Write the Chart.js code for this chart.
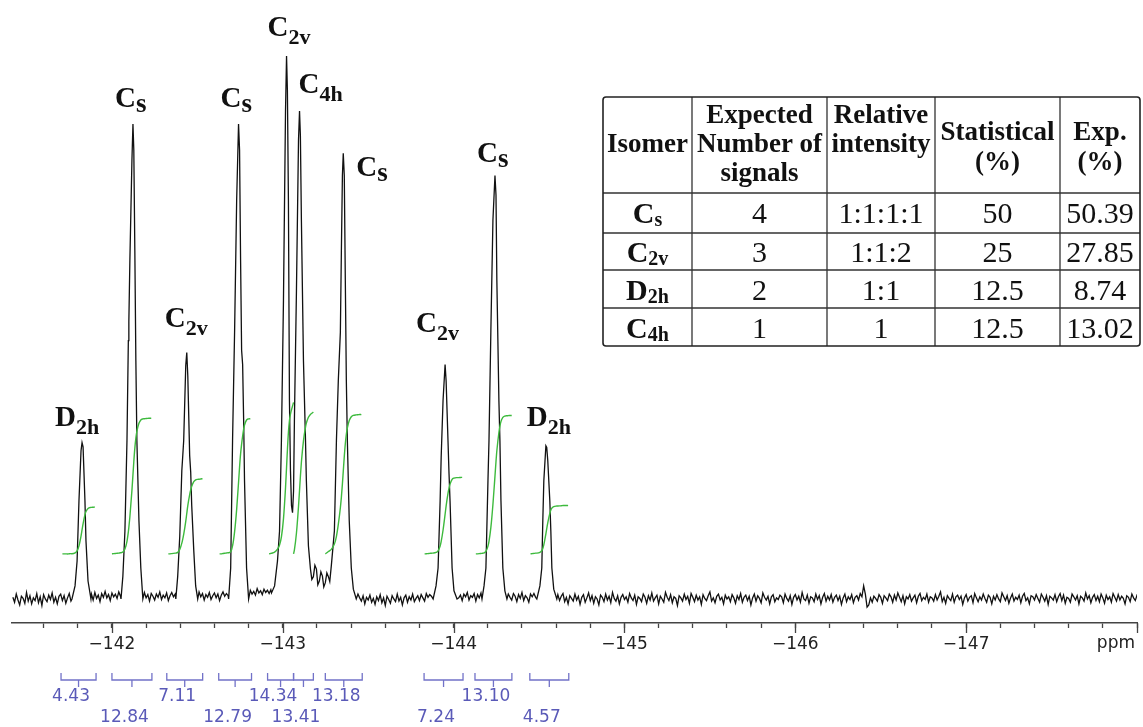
<!DOCTYPE html>
<html>
<head>
<meta charset="utf-8">
<script src="https://cdn.jsdelivr.net/npm/chart.js@4.4.1/dist/chart.umd.min.js"></script>
<style>
  html, body { margin: 0; padding: 0; background: #fff; }
</style>
</head>
<body>
<canvas id="nmr-chart" width="1143" height="727"></canvas>
<script>
// Peaks (ppm, height with the tallest line = 100)
const peak_ppm = [-141.825, -142.123, -142.438, -142.741, -143.022, -143.098, -143.354, -143.950, -144.242, -144.545];
const peak_height = [28.8, 87.5, 45.4, 87.5, 100, 89.9, 82.1, 43.2, 78.0, 28.2];
const peak_symbol = ['D', 'C', 'C', 'C', 'C', 'C', 'C', 'C', 'C', 'D'];
const peak_sub = ['2h', 's', '2v', 's', '2v', '4h', 's', '2v', 's', '2h'];

// Trace around each signal: [ppm, intensity]
const peak_traces = [
  [[-141.766,0],[-141.784,2.4],[-141.796,7.0],[-141.807,18.1],[-141.819,27.3],[-141.825,28.8],[-141.831,28.0],[-141.842,18.1],[-141.848,10.7],[-141.860,3.3],[-141.877,0]],
  [[-142.053,0],[-142.064,4.2],[-142.076,12.5],[-142.088,29.2],[-142.096,47.6],[-142.099,51.1],[-142.105,62.4],[-142.117,80.8],[-142.123,87.5],[-142.128,82.7],[-142.134,64.2],[-142.140,43.9],[-142.146,29.2],[-142.158,14.4],[-142.169,5.7],[-142.181,0]],
  [[-142.374,0],[-142.385,4.2],[-142.397,11.6],[-142.409,23.6],[-142.415,26.6],[-142.420,29.2],[-142.432,43.0],[-142.438,45.4],[-142.444,41.1],[-142.455,26.4],[-142.461,23.4],[-142.467,17.2],[-142.479,8.9],[-142.490,2.4],[-142.502,0]],
  [[-142.683,0],[-142.695,5.7],[-142.706,29.2],[-142.718,49.4],[-142.730,73.4],[-142.741,87.5],[-142.747,82.7],[-142.753,62.4],[-142.759,45.8],[-142.765,43.2],[-142.771,32.8],[-142.776,21.8],[-142.788,5.7],[-142.800,0]],
  [[-142.934,1.1],[-142.952,2.4],[-142.969,7.0],[-142.981,12.5],[-142.992,29.2],[-143.004,55.0],[-143.016,90.0],[-143.022,100],[-143.027,93.7],[-143.033,73.4],[-143.039,36.5],[-143.045,23.6],[-143.051,17.2],[-143.057,15.9],[-143.063,19.9],[-143.068,32.8],[-143.080,56.8],[-143.092,84.5],[-143.098,89.9],[-143.103,85.4],[-143.109,69.7],[-143.121,43.9],[-143.133,29.2],[-143.138,21.8],[-143.150,9.8],[-143.162,5.5],[-143.170,3.6],[-143.179,4.1],[-143.188,6.2],[-143.197,5.5],[-143.205,2.6],[-143.214,3.3],[-143.223,5.0],[-143.232,4.2],[-143.240,2.2],[-143.249,3.0],[-143.258,4.8],[-143.267,4.1],[-143.275,3.2],[-143.284,6.1],[-143.302,12.5],[-143.314,29.2],[-143.325,40.2],[-143.337,49.1],[-143.343,64.2],[-143.349,78.0],[-143.354,82.1],[-143.360,78.0],[-143.366,58.7],[-143.372,40.2],[-143.378,29.2],[-143.389,14.4],[-143.401,5.7],[-143.413,1.8],[-143.430,0]],
  [[-143.880,0],[-143.897,2.4],[-143.909,5.7],[-143.921,18.1],[-143.927,26.0],[-143.938,36.5],[-143.950,43.2],[-143.956,40.2],[-143.967,29.2],[-143.973,23.1],[-143.979,18.1],[-143.991,5.7],[-144.002,1.5],[-144.020,0]],
  [[-144.166,0],[-144.178,2.4],[-144.189,5.7],[-144.201,21.8],[-144.207,29.2],[-144.218,49.4],[-144.230,69.7],[-144.242,78.0],[-144.248,74.4],[-144.253,58.7],[-144.265,36.5],[-144.271,29.2],[-144.277,18.1],[-144.288,5.7],[-144.300,1.5],[-144.312,0]],
  [[-144.487,0],[-144.505,2.4],[-144.516,5.7],[-144.522,14.4],[-144.528,21.8],[-144.540,28.2],[-144.545,27.9],[-144.551,25.5],[-144.563,18.1],[-144.569,12.5],[-144.575,5.7],[-144.586,1.8],[-144.604,0]],
];

// Baseline noise, one value every 0.01 ppm from -141.42 ppm (zeros sit under the peaks and are not used)
const baseline_start = -141.42;
const baseline_step = 0.01;
const baseline_noise = [
  0.3,-0.6,0.9,-0.2,-1.1,0.5,0.1,-0.8,1.2,-0.4,0.6,-0.9,0.2,-0.3,1.0,-0.7,0.4,-1.2,0.8,0.0,-0.5,0.7,-0.1,1.1,-0.6,0.3,-0.9,0.5,0.9,-0.3,
  0.6,-0.8,0.2,1.0,-0.4,0,0,0,0,0,0,0,0,0,0,0,0.9,-0.2,1.2,0.1,0.7,-0.5,1.0,0.3,1.4,0.2,0.8,-0.3,1.1,0.4,
  0.9,0.1,1.3,0.5,0,0,0,0,0,0,0,0,0,0,0,0,0,1.2,0.2,0.8,-0.4,1.0,0.5,-0.2,0.9,0.3,1.3,-0.1,0.7,0.2,
  1.1,-0.3,0.6,1.2,0.4,0.9,0,0,0,0,0,0,0,0,0,0,0,0,0,1.3,0.4,1.0,-0.2,0.8,0.3,1.2,-0.1,0.6,1.1,0.2,
  0.9,-0.3,0.7,1.3,0.5,1.0,0.6,0,0,0,0,0,0,0,0,0,0,0,0,1.6,0.9,1.4,0.7,1.9,1.1,1.5,0.8,1.8,1.2,1.6,
  1.0,1.7,0,0,0,0,0,0,0,0,0,0,0,0,0,0,0,0,0,0,0,0,0,0,0,0,0,0,0,0,
  0,0,0,0,0,0,0,0,0,0,0,0,0,0,0,0,0,0,0,0,0,0,0.9,0.2,-0.4,0.6,-0.9,0.3,-0.2,0.7,
  -0.6,0.1,-1.0,0.4,-0.3,0.8,-0.7,0.2,-1.2,0.5,-0.1,-0.8,0.6,0.0,-0.5,0.9,-0.4,0.3,-1.1,0.2,0.7,-0.6,0.4,-0.2,0.9,-0.5,0.1,0.6,-0.3,0.8,
  0.2,-0.4,1.0,0.3,0.8,0.5,0,0,0,0,0,0,0,0,0,0,0,0,0,0,0,0.2,0.7,-0.3,0.9,0.4,1.2,-0.2,0.6,0.3,
  1.0,-0.4,0.8,0.2,1.1,0,0,0,0,0,0,0,0,0,0,0,0,0,0,0,0.9,0.3,-0.2,1.0,0.5,-0.5,0.8,0.1,1.2,-0.3,
  0.6,0.2,-0.6,0.9,0.4,1.0,0.3,0,0,0,0,0,0,0,0,0,0,0,0,0.8,-0.3,0.5,1.0,-0.5,0.3,-0.9,0.6,0.1,-0.4,0.9,
  -0.2,0.5,-1.0,0.3,0.8,-0.6,0.2,1.1,-0.3,0.6,-0.8,0.4,0.0,-1.1,0.7,0.3,-0.5,0.9,-0.2,0.5,-0.7,1.2,0.1,-0.4,0.6,-0.9,0.3,0.8,-0.1,0.4,
  -0.6,1.0,0.2,-0.3,0.7,-1.0,0.4,0.1,-0.5,0.9,0.3,-0.8,0.6,-0.2,1.1,-0.4,0.2,0.7,-0.9,0.5,0.0,-0.6,1.2,0.3,-0.3,0.8,-0.7,0.4,0.1,-1.2,
  0.6,0.2,-0.4,0.9,-0.1,0.5,-0.8,1.0,0.3,-0.5,0.7,-0.2,0.4,-1.0,0.8,0.1,-0.3,0.6,1.3,-0.4,0.2,-0.7,0.5,0.9,-0.2,0.3,-0.9,0.7,0.0,0.4,
  -0.5,0.8,0.2,-0.8,0.6,-0.1,1.0,-0.6,0.3,0.7,-0.3,0.5,-1.1,0.2,0.9,-0.4,0.6,0.1,-0.7,1.1,0.3,-0.2,0.5,-0.9,0.4,0.8,-0.5,0.2,-0.1,0.7,
  0.4,-0.7,0.9,0.1,-0.4,0.6,-1.0,0.3,0.8,-0.2,0.5,-0.6,1.2,0.0,-0.3,0.7,-0.8,0.4,0.2,-0.5,0.9,-0.1,0.6,-0.9,0.3,1.0,-0.4,0.5,-0.2,0.8,
  -0.6,0.3,0.7,-0.3,0.5,-1.0,0.2,0.9,-0.5,0.4,-0.1,0.8,-0.7,0.3,0.6,-0.2,1.0,0.4,2.4,0.9,-1.5,-1.1,0.2,-0.6,0.5,0.1,-0.4,0.8,0.3,-0.8,
  0.6,0.2,-0.3,0.9,0.4,-0.6,0.7,-0.2,1.1,0.3,-0.5,0.6,-0.9,0.4,0.0,0.8,-0.4,0.2,0.7,-0.7,0.5,1.0,-0.3,0.3,-0.1,0.9,-0.6,0.4,0.2,-0.4,
  0.8,-0.2,0.5,1.3,-0.5,0.3,-0.8,0.6,0.1,-0.3,0.9,-0.6,0.4,0.7,-0.1,0.5,-1.0,0.2,0.8,-0.4,0.3,0.6,-0.7,1.0,0.2,-0.5,0.4,-0.2,0.9,0.1,
  -0.6,0.7,0.3,-0.9,0.5,-0.2,0.8,0.0,-0.5,1.1,0.4,-0.3,0.6,-0.8,0.2,0.9,-0.4,0.3,-0.1,0.7,-0.7,0.5,1.0,-0.3,0.2,-0.9,0.6,0.4,-0.2,0.8,
  0.1,-0.6,0.9,0.3,-0.4,0.6,-1.0,0.5,0.2,-0.2,0.8,-0.5,0.4,1.0,-0.3,0.7,-0.8,0.3,0.1,-0.6,0.9,0.4,-0.2,0.6,-0.9,0.5,0.2,-0.4,1.1,0.0,
  0.6,-0.7,0.3,0.8,-0.3,0.5,-0.5,0.9,0.2,-0.8,0.7,-0.1,0.4,-0.6,1.0,0.3,-0.4,0.8,-0.2,0.5,0.1,-0.9,0.6,0.3,-0.5,0.9,0.2,-0.3,0.7,0.4,
];

// Integration regions (ppm) and their values
const integral_from = [-141.702, -142.000, -142.321, -142.625, -142.911, -143.063, -143.249, -143.827, -144.125, -144.446];
const integral_to   = [-141.907, -142.234, -142.531, -142.817, -143.063, -143.179, -143.465, -144.055, -144.341, -144.674];
const integral_value = [4.43, 12.84, 7.11, 12.79, 14.34, 13.41, 13.18, 7.24, 13.10, 4.57];

// Table
const table_symbol = ['C', 'C', 'D', 'C'];
const table_sub = ['s', '2v', '2h', '4h'];
const table_signals = ['4', '3', '2', '1'];
const table_ratio = ['1:1:1:1', '1:1:2', '1:1', '1'];
const table_statistical = ['50', '25', '12.5', '12.5'];
const table_exp = ['50.39', '27.85', '8.74', '13.02'];

// build the trace: baseline outside the peak windows + peak points
const windows = peak_traces.map(seg => [seg[0][0], seg[seg.length - 1][0]]);
let spectrum = [];
baseline_noise.forEach((v, i) => {
  const x = Math.round((baseline_start - i * baseline_step) * 1000) / 1000;
  if (!windows.some(w => x <= w[0] && x >= w[1])) spectrum.push({ x: x, y: v });
});
peak_traces.forEach(seg => seg.forEach(p => spectrum.push({ x: p[0], y: p[1] })));
spectrum.sort((a, b) => b.x - a.x);

// integral curves: running sum of the trace inside each region
const integral_base = 8.3;
const integral_scale = 1.947;
function integral_points(from, to, value) {
  const pts = spectrum.filter(p => p.x <= from && p.x >= to);
  let sum = 0;
  const cum = [0];
  for (let i = 1; i < pts.length; i++) {
    sum += (pts[i - 1].x - pts[i].x) * (pts[i - 1].y + pts[i].y) / 2;
    cum.push(sum);
  }
  return pts.map((p, i) => ({ x: p.x, y: integral_base + value * integral_scale * cum[i] / sum }));
}

const integral_sets = integral_value.map((v, i) => ({
  data: integral_points(integral_from[i], integral_to[i], v),
  borderColor: '#3dba3d',
  borderWidth: 1.4,
  pointRadius: 0,
  cubicInterpolationMode: 'monotone',
  order: 0,
}));

const serif = '"Liberation Serif", "Times New Roman", serif';
const sans = '"DejaVu Sans", sans-serif';

// label placement relative to the peak top (px)
const label_offset = [[-27,-17],[-18,-17],[-22,-25],[-18,-17],[-19,-20],[-1,-18],[13,23],[-29,-32],[-18,-14],[-20,-20]];

const overlay = {
  id: 'overlay',
  afterDraw(chart) {
    const ctx = chart.ctx;
    const xs = chart.scales.x;
    const ys = chart.scales.y;
    const bottom = chart.chartArea.bottom;
    ctx.save();

    // longer ticks at whole ppm
    ctx.strokeStyle = '#444';
    ctx.lineWidth = 1.3;
    for (let v = -148; v <= -142; v++) {
      const px = Math.round(xs.getPixelForValue(v)) + 0.5;
      ctx.beginPath();
      ctx.moveTo(px, bottom);
      ctx.lineTo(px, bottom + 10);
      ctx.stroke();
    }
    ctx.font = '17px ' + sans;
    ctx.fillStyle = '#222';
    ctx.textAlign = 'right';
    ctx.textBaseline = 'middle';
    ctx.fillText('ppm', xs.getPixelForValue(-148) - 2, bottom + 21);

    // integration brackets
    ctx.strokeStyle = '#7272c8';
    ctx.lineWidth = 1.3;
    ctx.fillStyle = '#5a5ab8';
    ctx.textAlign = 'center';
    integral_value.forEach((v, i) => {
      const a = xs.getPixelForValue(integral_from[i]);
      const b = xs.getPixelForValue(integral_to[i]);
      const m = (a + b) / 2;
      ctx.beginPath();
      ctx.moveTo(a, bottom + 50);
      ctx.lineTo(a, bottom + 57);
      ctx.lineTo(b, bottom + 57);
      ctx.lineTo(b, bottom + 50);
      ctx.moveTo(m, bottom + 57);
      ctx.lineTo(m, bottom + 64);
      ctx.stroke();
      ctx.fillText(v.toFixed(2), m - 7.5, bottom + (i % 2 === 0 ? 74 : 95));
    });

    // isomer labels over the peaks
    ctx.fillStyle = '#111';
    ctx.textAlign = 'left';
    ctx.textBaseline = 'alphabetic';
    peak_ppm.forEach((p, i) => {
      const px = xs.getPixelForValue(p) + label_offset[i][0];
      const py = ys.getPixelForValue(peak_height[i]) + label_offset[i][1];
      ctx.font = 'bold 29px ' + serif;
      ctx.fillText(peak_symbol[i], px, py);
      const w = ctx.measureText(peak_symbol[i]).width;
      const small = peak_sub[i] === 's';
      ctx.font = 'bold ' + (small ? 27 : 22) + 'px ' + serif;
      ctx.fillText(peak_sub[i], px + w, py + (small ? 5 : 8));
    });

    // table
    const cols = [603, 692, 827, 935, 1060, 1140];
    const rows = [97, 193, 233, 270, 308, 346];
    const mid = c => (cols[c] + cols[c + 1]) / 2;
    ctx.fillStyle = '#fff';
    ctx.fillRect(cols[0], rows[0], cols[5] - cols[0], rows[5] - rows[0]);
    ctx.strokeStyle = '#333';
    ctx.lineWidth = 1.3;
    ctx.beginPath();
    for (let c = 1; c < 5; c++) {
      ctx.moveTo(cols[c], rows[0]);
      ctx.lineTo(cols[c], rows[5]);
    }
    for (let r = 1; r < 5; r++) {
      ctx.moveTo(cols[0], rows[r]);
      ctx.lineTo(cols[5], rows[r]);
    }
    ctx.stroke();
    ctx.strokeStyle = '#222';
    ctx.lineWidth = 1.6;
    ctx.beginPath();
    ctx.roundRect(cols[0], rows[0], cols[5] - cols[0], rows[5] - rows[0], 3);
    ctx.stroke();

    ctx.fillStyle = '#111';
    ctx.textAlign = 'center';
    ctx.font = 'bold 27px ' + serif;
    ctx.fillText('Isomer', mid(0), 152);
    ctx.fillText('Expected', mid(1), 123);
    ctx.fillText('Number of', mid(1), 152);
    ctx.fillText('signals', mid(1), 181);
    ctx.fillText('Relative', mid(2), 123);
    ctx.fillText('intensity', mid(2), 152);
    ctx.fillText('Statistical', mid(3), 140);
    ctx.fillText('(%)', mid(3), 170);
    ctx.fillText('Exp.', mid(4), 140);
    ctx.fillText('(%)', mid(4), 170);

    const base = [223, 262, 300, 338];
    base.forEach((y, r) => {
      ctx.font = 'bold 30px ' + serif;
      const w1 = ctx.measureText(table_symbol[r]).width;
      ctx.font = 'bold 20px ' + serif;
      const w2 = ctx.measureText(table_sub[r]).width;
      const left = mid(0) - (w1 + w2) / 2;
      ctx.textAlign = 'left';
      ctx.font = 'bold 30px ' + serif;
      ctx.fillText(table_symbol[r], left, y);
      ctx.font = 'bold 20px ' + serif;
      ctx.fillText(table_sub[r], left + w1, y + 3);
      ctx.textAlign = 'center';
      ctx.font = '30px ' + serif;
      ctx.fillText(table_signals[r], mid(1), y);
      ctx.fillText(table_ratio[r], mid(2), y);
      ctx.fillText(table_statistical[r], mid(3), y);
      ctx.fillText(table_exp[r], mid(4), y);
    });

    ctx.restore();
  }
};

new Chart(document.getElementById('nmr-chart'), {
  type: 'line',
  data: {
    datasets: [
      {
        data: spectrum,
        borderColor: '#111',
        borderWidth: 1.3,
        pointRadius: 0,
        tension: 0,
        order: 1,
      },
      ...integral_sets,
    ],
  },
  options: {
    responsive: false,
    animation: false,
    layout: { padding: { left: 12, right: 3, top: 0, bottom: 66.6 } },
    plugins: {
      legend: { display: false },
      tooltip: { enabled: false },
    },
    scales: {
      x: {
        type: 'linear',
        reverse: true,
        min: -148,
        max: -141.415,
        grid: { drawOnChartArea: false, tickLength: 5, color: '#444', tickWidth: 1.3 },
        border: { color: '#444', width: 1.5 },
        ticks: {
          stepSize: 0.2,
          includeBounds: false,
          autoSkip: false,
          maxRotation: 0,
          padding: 6,
          color: '#222',
          font: { family: 'DejaVu Sans', size: 17 },
          callback: (v) => {
            const r = Math.round(v);
            if (Math.abs(v - r) > 1e-6 || r === -148) return '';
            return '\u2212' + Math.abs(r);
          },
        },
      },
      y: { display: false, min: -4.43, max: 110.33 },
    },
  },
  plugins: [overlay],
});
</script>
</body>
</html>
